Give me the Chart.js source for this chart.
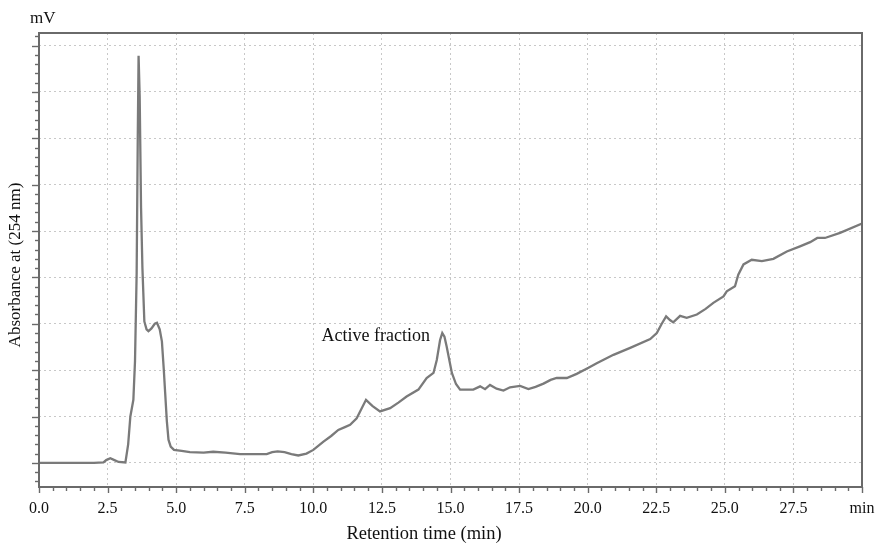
<!DOCTYPE html>
<html><head><meta charset="utf-8">
<script src="https://cdn.jsdelivr.net/npm/chart.js@4/dist/chart.umd.min.js"></script>
<style>html,body{margin:0;padding:0;background:#fff}canvas{display:block}</style>
</head><body>
<canvas id="c" width="878" height="544"></canvas>
<script>
// ---- data ----
const retentionTime = [
  0.0, 1.0, 2.0, 2.35, 2.45, 2.6, 2.75, 2.9, 3.15, 3.25, 3.33, 3.44, 3.5, 3.56, 3.6, 3.63, 3.67, 3.72, 3.77, 3.84,
  3.92, 3.99, 4.1, 4.22, 4.3, 4.4, 4.48, 4.55, 4.6, 4.66, 4.72, 4.8, 4.92, 5.2, 5.5, 6.0, 6.35, 6.8, 7.33, 7.8,
  8.3, 8.5, 8.7, 8.95, 9.2, 9.45, 9.75, 10.0, 10.37, 10.65, 10.91, 11.15, 11.34, 11.58, 11.92, 12.15, 12.43, 12.8, 13.1, 13.4,
  13.83, 14.13, 14.38, 14.5, 14.62, 14.7, 14.78, 14.86, 15.05, 15.2, 15.35, 15.83, 16.08, 16.26, 16.44, 16.68, 16.93, 17.17, 17.54, 17.84,
  18.1, 18.39, 18.65, 18.87, 19.24, 19.6, 20.03, 20.33, 20.94, 21.55, 22.28, 22.52, 22.7, 22.86, 23.0, 23.12, 23.37, 23.61, 23.98, 24.3,
  24.58, 24.95, 25.07, 25.37, 25.49, 25.68, 25.98, 26.35, 26.77, 27.26, 27.74, 28.11, 28.37, 28.65, 29.2, 30.0
];
const absorbance = [
  0.0, 0.0, 0.0, 0.01, 0.06, 0.10, 0.06, 0.02, 0.01, 0.4, 1.0, 1.36, 2.2, 4.1, 7.0, 8.78, 7.9, 5.5, 4.2, 3.05,
  2.88, 2.84, 2.90, 3.00, 3.02, 2.88, 2.62, 2.0, 1.5, 0.9, 0.5, 0.35, 0.28, 0.26, 0.23, 0.22, 0.24, 0.22, 0.19, 0.19,
  0.19, 0.23, 0.25, 0.23, 0.19, 0.16, 0.20, 0.28, 0.46, 0.58, 0.71, 0.77, 0.82, 0.96, 1.36, 1.23, 1.11, 1.18, 1.30, 1.43,
  1.58, 1.83, 1.94, 2.22, 2.65, 2.80, 2.72, 2.51, 1.94, 1.70, 1.58, 1.58, 1.65, 1.59, 1.68, 1.60, 1.56, 1.63, 1.66, 1.59,
  1.64, 1.71, 1.79, 1.83, 1.83, 1.92, 2.05, 2.15, 2.33, 2.48, 2.67, 2.80, 3.0, 3.16, 3.08, 3.03, 3.17, 3.13, 3.20, 3.32,
  3.45, 3.59, 3.70, 3.81, 4.06, 4.28, 4.38, 4.35, 4.40, 4.56, 4.67, 4.76, 4.85, 4.85, 4.96, 5.16
];
const xTickLabels = ['0.0', '2.5', '5.0', '7.5', '10.0', '12.5', '15.0', '17.5', '20.0', '22.5', '25.0', '27.5', 'min'];
const yGridLevels = [0, 1, 2, 3, 4, 5, 6, 7, 8, 9];
const unitLabel = 'mV';
const yTitle = 'Absorbance at (254 nm)';
const xTitle = 'Retention time (min)';
const annotationText = 'Active fraction';
const annotationAt = [10.3, 2.62];

const SERIF = '"Liberation Serif", "Times New Roman", serif';

const framePlugin = {
  id: 'frameAndText',
  afterDraw(chart) {
    const { ctx, chartArea: a, scales: { x, y } } = chart;
    ctx.save();
    // minor / major ticks on x (outside, below)
    ctx.strokeStyle = '#6a6a6a';
    ctx.lineWidth = 1.4;
    for (let i = 0; i <= 60; i++) {
      const px = Math.round(x.getPixelForValue(i * 0.5)) + 0.5;
      const len = (i % 5 === 0) ? 6 : 4;
      ctx.beginPath(); ctx.moveTo(px, a.bottom); ctx.lineTo(px, a.bottom + len); ctx.stroke();
    }
    // minor / major ticks on y (outside, left)
    const k0 = Math.ceil(y.min / 0.2 - 1e-6), k1 = Math.floor(y.max / 0.2 + 1e-6);
    for (let k = k0; k <= k1; k++) {
      const py = Math.round(y.getPixelForValue(k * 0.2)) + 0.5;
      const len = (k % 5 === 0) ? 7 : 4;
      ctx.beginPath(); ctx.moveTo(a.left, py); ctx.lineTo(a.left - len, py); ctx.stroke();
    }
    // frame
    ctx.strokeStyle = '#6a6a6a';
    ctx.lineWidth = 2;
    ctx.strokeRect(a.left, a.top, a.right - a.left, a.bottom - a.top);
    // texts
    ctx.fillStyle = '#111';
    ctx.textBaseline = 'alphabetic';
    ctx.font = '17px ' + SERIF;
    ctx.textAlign = 'left';
    ctx.fillText(unitLabel, 30, 23);
    ctx.font = '18px ' + SERIF;
    ctx.fillText(annotationText, x.getPixelForValue(annotationAt[0]), y.getPixelForValue(annotationAt[1]));
    ctx.font = '18.5px ' + SERIF;
    ctx.textAlign = 'center';
    ctx.fillText(xTitle, 424, 539);
    ctx.save();
    ctx.translate(20, 265);
    ctx.rotate(-Math.PI / 2);
    ctx.font = '17px ' + SERIF;
    ctx.fillText(yTitle, 0, 0);
    ctx.restore();
    ctx.restore();
  }
};

new Chart(document.getElementById('c'), {
  type: 'line',
  data: {
    datasets: [{
      data: retentionTime.map((t, i) => ({ x: t, y: absorbance[i] })),
      borderColor: '#7a7a7a',
      borderWidth: 2.3,
      pointRadius: 0,
      tension: 0,
      fill: false
    }]
  },
  options: {
    responsive: false,
    animation: false,
    devicePixelRatio: 1,
    layout: { padding: { left: 0, right: 16, top: 33, bottom: 0 } },
    plugins: { legend: { display: false }, tooltip: { enabled: false } },
    scales: {
      x: {
        type: 'linear', min: 0, max: 30, position: 'bottom',
        afterFit(s) { s.height = 57; s.paddingLeft = 0; s.paddingRight = 0; },
        ticks: {
          stepSize: 2.5, padding: 12, color: '#111', maxRotation: 0, autoSkip: false,
          font: { family: SERIF, size: 16 },
          callback: (v, i) => xTickLabels[i]
        },
        grid: { color: '#c8c8c8', lineWidth: 1, drawTicks: false },
        border: { display: false, dash: [2, 3] }
      },
      y: {
        type: 'linear', min: -0.52, max: 9.27, position: 'left',
        afterFit(s) { s.width = 39; },
        afterBuildTicks(s) { s.ticks = yGridLevels.map(v => ({ value: v })); },
        ticks: { display: false },
        grid: { color: '#c8c8c8', lineWidth: 1, drawTicks: false },
        border: { display: false, dash: [2, 3] }
      }
    }
  },
  plugins: [framePlugin]
});
</script>
</body></html>
